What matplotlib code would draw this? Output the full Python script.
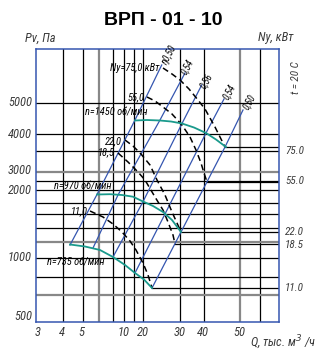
import numpy as np
import matplotlib.pyplot as plt

plt.rcParams['font.family'] = ['Roboto Condensed', 'Liberation Sans', 'DejaVu Sans']
plt.rcParams['font.style'] = 'italic'

# nomogram sheet coordinates: x to the right, y downward
x_lim = (36.0, 279.3)
y_lim = (321.7, 49.0)

# grid of the sheet
v_lines = [62.7, 82.7, 99.3, 113.3, 124.0, 134.0, 142.7, 180.0, 204.3, 240.0, 260.0]
v_heavy = [99.3, 240.0]
h_lines = [103.0, 134.3, 150.7, 171.7, 181.0, 190.0, 202.7, 214.3, 227.5, 241.5,
           257.7, 276.7, 295.3]
h_heavy = [171.7, 241.5, 295.3]

# scale labels
q_ticks = ['3', '4', '5', '10', '20', '30', '40', '50']
q_tick_x = [37.7, 61.7, 81.7, 123.3, 143.3, 180.0, 202.7, 239.3]
pv_ticks = ['5000', '4000', '3000', '2000', '1000', '500']
pv_tick_y = [103.0, 134.3, 171.0, 190.0, 257.7, 317.0]
ny_ticks = ['75.0', '55.0', '22.0', '18.5', '11.0']
ny_tick_y = [150.7, 181.5, 232.0, 245.0, 288.3]

# pressure curves for each speed
speeds = ['1450', '970', '735']
curve_x = {
    '1450': [135, 147, 160, 171, 182, 194, 206, 216, 226],
    '970': [97, 110, 122, 133, 143, 153, 163, 172, 181],
    '735': [70, 85, 100, 113, 125, 135, 144, 152],
}
curve_y = {
    '1450': [120.5, 120.0, 120.5, 121.5, 123.5, 127.5, 133.0, 139.5, 147.0],
    '970': [194.5, 194.2, 195.0, 196.7, 201.5, 206.0, 212.0, 220.0, 232.0],
    '735': [244.5, 246.5, 250.0, 257.0, 265.0, 273.0, 279.5, 288.0],
}
speed_label_xy = {'1450': (116.5, 113.0), '970': (82.5, 186.0), '735': (75.5, 262.7)}

# motor power curves, kW
power = ['75,0', '55,0', '22,0', '18,5', '11,0']
power_x = [
    [163, 172, 180, 189, 198, 205, 210, 215, 220, 225],
    [147, 155, 163, 172, 182, 190, 196, 201, 204, 207],
    [125, 133, 141, 150, 157, 165, 172, 177, 181],
    [118, 128, 138, 145, 155, 163, 168, 173, 175],
    [90, 103, 113, 122, 130, 136, 143, 148, 152],
]
power_y = [
    [68, 74, 80, 89, 100, 109, 118, 127, 137, 147],
    [97, 101, 107, 114, 125, 137, 150, 163, 173, 182],
    [140, 146, 154, 165, 180, 195, 212, 223, 232],
    [153, 162, 172, 180, 197, 210, 222, 235, 244],
    [211, 217, 224, 232, 241, 250, 263, 275, 288],
]
power_label_xy = [(135.0, 68.3), (136.0, 97.3), (113.0, 141.7), (106.7, 152.7), (78.8, 211.7)]

# efficiency rays
eta = ['η0,50', '0,54', '0,56', '0,54', '0,50']
ray_x = [
    [70, 97, 135, 161.7],
    [93, 118, 160, 185],
    [113, 143, 182, 201.7],
    [135, 165, 206, 224],
    [152, 181, 225, 243],
]
ray_y = [
    [245, 194.5, 120, 65],
    [248, 195, 120, 73],
    [257, 201.7, 123.5, 85],
    [273, 214, 133, 99],
    [288, 232, 147, 110],
]
eta_label_xy = [(169.0, 55.0), (187.5, 67.0), (206.5, 80.5), (229.0, 92.0), (249.0, 102.0)]

blue = '#3556b0'
teal = '#1a9a8c'
grey = '#888888'
txt = '#3a3a3a'

fig = plt.figure(figsize=(3.36, 3.56), dpi=100)
ax = fig.add_axes([36.0 / 336, 1 - 321.7 / 356, (279.3 - 36.0) / 336, (321.7 - 49.0) / 356])
ax.set_xlim(*x_lim)
ax.set_ylim(*y_lim)
ax.set_xticks([])
ax.set_yticks([])
for s in ax.spines.values():
    s.set_color(blue)
    s.set_linewidth(1.1)

for x in v_lines:
    if x in v_heavy:
        ax.axvline(x, color=grey, lw=1.6, zorder=1)
    else:
        ax.axvline(x, color='black', lw=0.9, zorder=1)
for y in h_lines:
    if y in h_heavy:
        ax.axhline(y, color=grey, lw=1.6, zorder=1)
    else:
        ax.axhline(y, color='black', lw=0.9, zorder=1)

# efficiency rays
for rx, ry, lab, (lx, ly) in zip(ray_x, ray_y, eta, eta_label_xy):
    ax.plot(rx, ry, color=blue, lw=0.9, zorder=3)
    ax.text(lx, ly, lab, rotation=62, ha='center', va='center', fontsize=7,
            color='black', zorder=5)

# power curves, tied to the right-hand scale
for px, py, lab, (lx, ly) in zip(power_x, power_y, power, power_label_xy):
    ax.plot(px, py, color='black', lw=1.1, ls=(0, (4, 2.5)), zorder=4)
    ax.plot([px[-1], x_lim[1]], [py[-1], py[-1]], color='black', lw=0.9, zorder=2)
    if lab == '75,0':
        lab = 'Ny=75,0 кВт'
    ax.text(lx, ly, lab, ha='center', va='center', fontsize=7.5, color='black', zorder=5)

# pressure curves
for n in speeds:
    ax.plot(curve_x[n], curve_y[n], color=teal, lw=1.3, zorder=4)
    lx, ly = speed_label_xy[n]
    ax.text(lx, ly, 'n=%s об/мин' % n, ha='center', va='center', fontsize=7.5,
            color='black', zorder=5)

# scales
for lab, x in zip(q_ticks, q_tick_x):
    ax.text(x, 332.0, lab, ha='center', va='center', fontsize=9, color=txt, clip_on=False)
for lab, y in zip(pv_ticks, pv_tick_y):
    ax.text(32.0, y, lab, ha='right', va='center', fontsize=9, color=txt, clip_on=False)
for lab, y in zip(ny_ticks, ny_tick_y):
    ax.text(285.0, y, lab, ha='left', va='center', fontsize=8, color=txt, clip_on=False)

ax.text(40.5, 38.0, 'Pv, Па', ha='center', va='center', fontsize=9, color=txt, clip_on=False)
ax.text(275.5, 38.0, 'Ny, кВт', ha='center', va='center', fontsize=9, color=txt, clip_on=False)
ax.text(296.0, 78.0, 't = 20 C', rotation=90, ha='center', va='center', fontsize=8,
        color=txt, clip_on=False)
ax.text(283.0, 343.0, 'Q, тыс. м$^{3}$ /ч', ha='center', va='center', fontsize=9,
        color=txt, clip_on=False)

fig.text(163 / 336, 1 - 20.5 / 356, 'ВРП - 01 - 10', ha='center', va='center',
         fontsize=14, fontweight='bold', fontstyle='normal',
         family=['Liberation Sans', 'DejaVu Sans'])

fig.savefig('out.png', dpi=100)
